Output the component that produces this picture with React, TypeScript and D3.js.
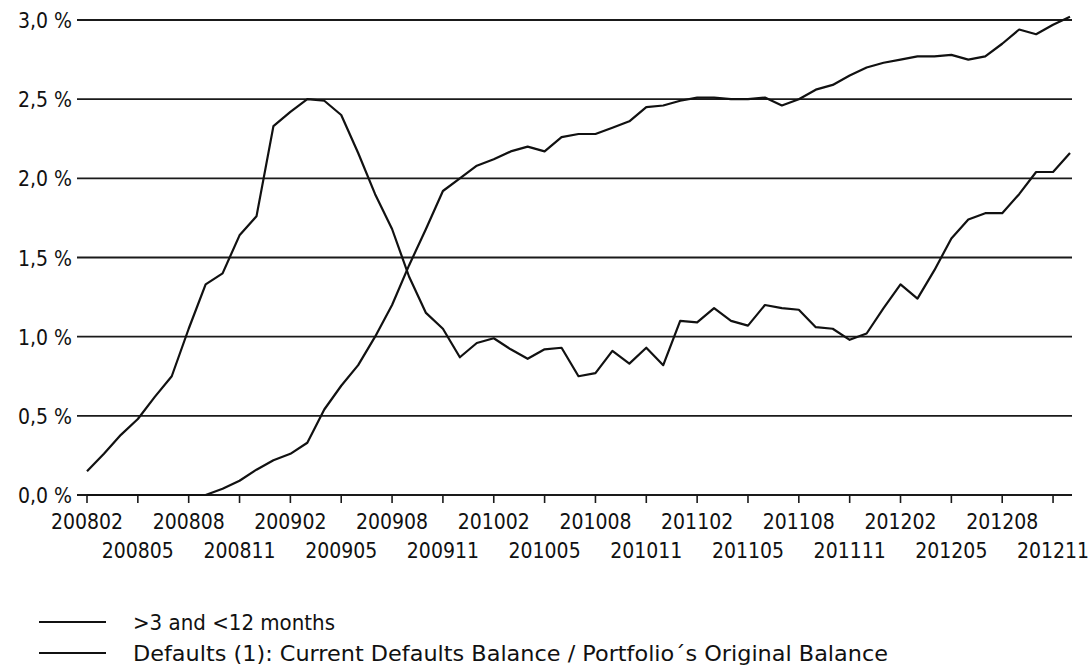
// @ts-nocheck
import React, { useEffect, useRef } from "react";
import { select, scaleLinear, scalePoint, line } from "d3";

// months on the x axis (yyyymm)
const months = [
  "200802", "200803", "200804", "200805", "200806", "200807", "200808", "200809", "200810", "200811", "200812",
  "200901", "200902", "200903", "200904", "200905", "200906", "200907", "200908", "200909", "200910", "200911", "200912",
  "201001", "201002", "201003", "201004", "201005", "201006", "201007", "201008", "201009", "201010", "201011", "201012",
  "201101", "201102", "201103", "201104", "201105", "201106", "201107", "201108", "201109", "201110", "201111", "201112",
  "201201", "201202", "201203", "201204", "201205", "201206", "201207", "201208", "201209", "201210", "201211", "201212",
];

// >3 and <12 months arrears, % of balance
const arrears = [
  0.15, 0.26, 0.38, 0.48, 0.62, 0.75, 1.05, 1.33, 1.4, 1.64, 1.76,
  2.33, 2.42, 2.5, 2.49, 2.4, 2.16, 1.9, 1.68, 1.38, 1.15, 1.05, 0.87,
  0.96, 0.99, 0.92, 0.86, 0.92, 0.93, 0.75, 0.77, 0.91, 0.83, 0.93, 0.82,
  1.1, 1.09, 1.18, 1.1, 1.07, 1.2, 1.18, 1.17, 1.06, 1.05, 0.98, 1.02,
  1.18, 1.33, 1.24, 1.42, 1.62, 1.74, 1.78, 1.78, 1.9, 2.04, 2.04, 2.16,
];

// cumulative defaults / original balance, %
const defaults = [
  0, 0, 0, 0, 0, 0, 0, 0, 0.04, 0.09, 0.16,
  0.22, 0.26, 0.33, 0.54, 0.69, 0.82, 1.0, 1.2, 1.45, 1.68, 1.92, 2.0,
  2.08, 2.12, 2.17, 2.2, 2.17, 2.26, 2.28, 2.28, 2.32, 2.36, 2.45, 2.46,
  2.49, 2.51, 2.51, 2.5, 2.5, 2.51, 2.46, 2.5, 2.56, 2.59, 2.65, 2.7,
  2.73, 2.75, 2.77, 2.77, 2.78, 2.75, 2.77, 2.85, 2.94, 2.91, 2.97, 3.02,
];

const yTicks = [0, 0.5, 1, 1.5, 2, 2.5, 3];
const legendLabels = [
  ">3 and <12 months",
  "Defaults (1): Current Defaults Balance / Portfolio´s Original Balance",
];
const legendWidths = [202, 755];

const FONT = "'DejaVu Sans Condensed', 'DejaVu Sans', sans-serif";
const LEGEND_FONT = "'DejaVu Sans', sans-serif";

export default function App() {
  const ref = useRef(null);

  useEffect(() => {
    const svg = select(ref.current);
    svg.selectAll("*").remove();

    const x = scalePoint().domain(months).range([87, 1070]);
    const y = scaleLinear().domain([0, 3]).range([495, 20]);

    // horizontal grid lines
    svg
      .append("g")
      .selectAll("line")
      .data(yTicks)
      .join("line")
      .attr("x1", 77)
      .attr("x2", 1072)
      .attr("y1", (d) => y(d))
      .attr("y2", (d) => y(d))
      .attr("stroke", "#1a1a1a")
      .attr("stroke-width", 1.8);

    // y labels
    svg
      .append("g")
      .selectAll("text")
      .data(yTicks)
      .join("text")
      .attr("x", 72)
      .attr("y", (d) => y(d) + 8)
      .attr("text-anchor", "end")
      .attr("font-family", FONT)
      .attr("font-stretch", "condensed")
      .attr("font-size", 21)
      .attr("fill", "#111")
      .text((d) => d.toFixed(1).replace(".", ",") + " %");

    // x ticks every 3 months
    const tickMonths = months.filter((m, i) => i % 3 === 0);
    svg
      .append("g")
      .selectAll("line")
      .data(tickMonths)
      .join("line")
      .attr("x1", (d) => x(d))
      .attr("x2", (d) => x(d))
      .attr("y1", y(0))
      .attr("y2", y(0) + 8)
      .attr("stroke", "#1a1a1a")
      .attr("stroke-width", 1.6);

    svg
      .append("g")
      .selectAll("text")
      .data(tickMonths)
      .join("text")
      .attr("x", (d) => x(d))
      .attr("y", (d, i) => (i % 2 === 0 ? 529 : 558))
      .attr("text-anchor", "middle")
      .attr("font-family", FONT)
      .attr("font-stretch", "condensed")
      .attr("font-size", 21)
      .attr("fill", "#111")
      .text((d) => d);

    // series lines
    const path = line()
      .x((d, i) => x(months[i]))
      .y((d) => y(d));

    [arrears, defaults].forEach((s) => {
      svg
        .append("path")
        .datum(s)
        .attr("fill", "none")
        .attr("stroke", "#111")
        .attr("stroke-width", 2.2)
        .attr("stroke-linejoin", "round")
        .attr("d", path);
    });

    // legend
    const leg = svg
      .append("g")
      .selectAll("g")
      .data(legendLabels)
      .join("g")
      .attr("transform", (d, i) => `translate(0,${622 + i * 31})`);
    leg
      .append("line")
      .attr("x1", 39)
      .attr("x2", 106)
      .attr("stroke", "#111")
      .attr("stroke-width", 2);
    leg
      .append("text")
      .attr("x", 133)
      .attr("y", 8)
      .attr("font-family", LEGEND_FONT)
      .attr("font-size", 21)
      .attr("textLength", (d, i) => legendWidths[i])
      .attr("lengthAdjust", "spacingAndGlyphs")
      .attr("fill", "#111")
      .text((d) => d);
  }, []);

  return (
    <div style={{ position: "absolute", left: 0, top: 0 }}>
      <svg ref={ref} width={1091} height={670} style={{ display: "block", background: "#fff" }} />
    </div>
  );
}
